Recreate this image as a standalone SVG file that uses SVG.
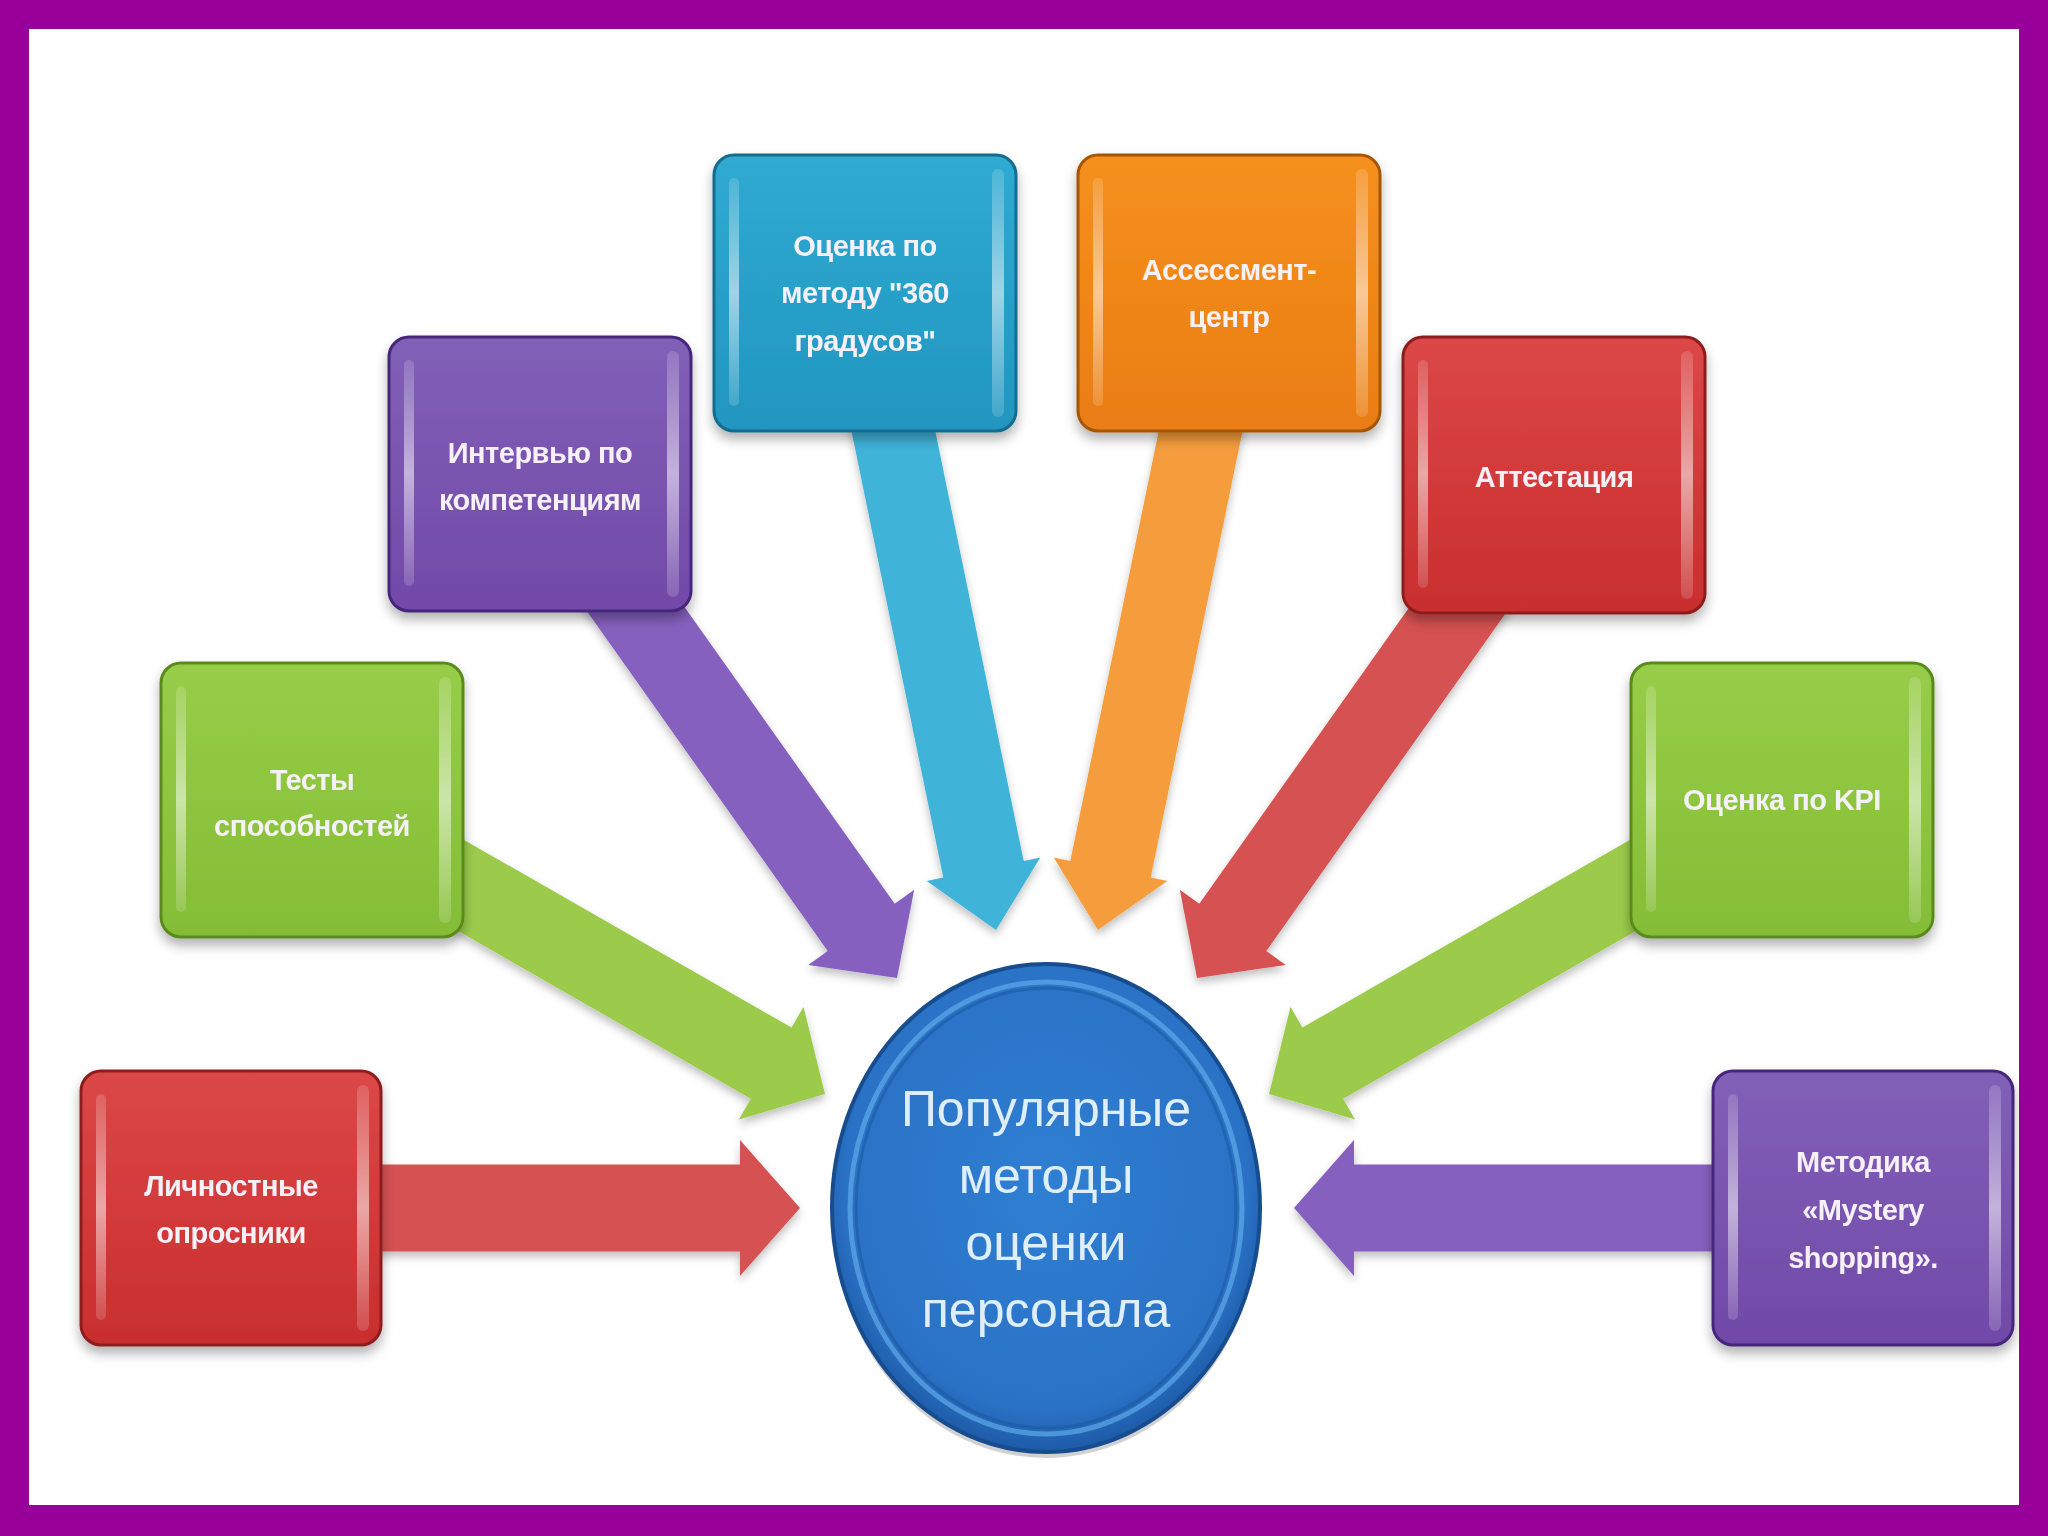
<svg xmlns="http://www.w3.org/2000/svg" width="2048" height="1536" viewBox="0 0 2048 1536">
<defs>
<filter id="sh" x="-20%" y="-20%" width="140%" height="150%">
<feDropShadow dx="0" dy="7" stdDeviation="6" flood-color="#000" flood-opacity="0.3"/>
</filter>
<filter id="ash" x="-20%" y="-20%" width="140%" height="140%">
<feDropShadow dx="0" dy="5" stdDeviation="4" flood-color="#000" flood-opacity="0.25"/>
</filter>
<linearGradient id="gRed" x1="0" y1="0" x2="0" y2="1"><stop offset="0" stop-color="#dc4747"/><stop offset="1" stop-color="#c92e2e"/></linearGradient>
<linearGradient id="gGreen" x1="0" y1="0" x2="0" y2="1"><stop offset="0" stop-color="#97cd48"/><stop offset="1" stop-color="#84bd36"/></linearGradient>
<linearGradient id="gPurple" x1="0" y1="0" x2="0" y2="1"><stop offset="0" stop-color="#8160b8"/><stop offset="1" stop-color="#7149a8"/></linearGradient>
<linearGradient id="gCyan" x1="0" y1="0" x2="0" y2="1"><stop offset="0" stop-color="#30aad2"/><stop offset="1" stop-color="#2096c0"/></linearGradient>
<linearGradient id="gOrange" x1="0" y1="0" x2="0" y2="1"><stop offset="0" stop-color="#f5901e"/><stop offset="1" stop-color="#ea7d12"/></linearGradient>
<radialGradient id="gBlue" cx="0.5" cy="0.45" r="0.55"><stop offset="0" stop-color="#2f7fd2"/><stop offset="0.85" stop-color="#2a72c6"/><stop offset="1" stop-color="#1d5aa6"/></radialGradient>
<linearGradient id="hl" x1="0" y1="0" x2="0" y2="1"><stop offset="0" stop-color="#fff" stop-opacity="0.15"/><stop offset="0.5" stop-color="#fff" stop-opacity="0.55"/><stop offset="1" stop-color="#fff" stop-opacity="0.15"/></linearGradient>
</defs>
<style>
.frame{fill:#990099}
.bg{fill:#ffffff}
.box{stroke-width:3}
.red .box{fill:url(#gRed);stroke:#8e1e1e}
.green .box{fill:url(#gGreen);stroke:#5a8a1e}
.purple .box{fill:url(#gPurple);stroke:#45287a}
.cyan .box{fill:url(#gCyan);stroke:#126c8e}
.orange .box{fill:url(#gOrange);stroke:#a55606}
.strip{fill:url(#hl)}
.lbl{font-family:"Liberation Sans","DejaVu Sans",sans-serif;font-weight:bold;font-size:29px;fill:#f6f1f8;text-anchor:middle;letter-spacing:-0.5px}
.ctr{font-family:"Liberation Sans","DejaVu Sans",sans-serif;font-size:50px;fill:#dfeefb;text-anchor:middle}
.aRed{fill:#d65151}
.aGreen{fill:#9ccb4b}
.aPurple{fill:#8661be}
.aCyan{fill:#3fb3d8}
.aOrange{fill:#f59d3c}
</style>
<rect class="frame" x="0" y="0" width="2048" height="1536"/>
<rect class="bg" x="29" y="29" width="1990" height="1476"/>

<g id="connectors" filter="url(#ash)">
<polygon class="aRed" points="231,1164.5 740,1164.5 740,1140 800,1208 740,1276 740,1251.5 231,1251.5"/>
<polygon class="aPurple" points="1863,1164.5 1354,1164.5 1354,1140 1294,1208 1354,1276 1354,1251.5 1863,1251.5"/>
<polygon class="aGreen" points="291.6,835.6 750.8,1098.8 738.9,1119.6 825,1094 803.5,1006.8 791.6,1027.6 332.4,764.4"/>
<polygon class="aGreen" points="1802.4,835.6 1343.2,1098.8 1355.1,1119.6 1269,1094 1290.5,1006.8 1302.4,1027.6 1761.6,764.4"/>
<polygon class="aPurple" points="506.5,497.7 827.7,951.1 808.2,965 897,978 914.2,889.8 894.7,903.7 573.5,450.3"/>
<polygon class="aRed" points="1587.5,497.7 1266.3,951.1 1285.8,965 1197,978 1179.8,889.8 1199.3,903.7 1520.5,450.3"/>
<polygon class="aCyan" points="824.8,301.3 943.3,877.6 926.7,881 996,930 1040.3,857.6 1023.7,861 905.2,284.7"/>
<polygon class="aOrange" points="1269.2,301.3 1150.7,877.6 1167.3,881 1098,930 1053.7,857.6 1070.3,861 1188.8,284.7"/>
</g>

<g id="center">
<ellipse cx="1046" cy="1214" rx="214" ry="244" fill="#000" opacity="0.18"/>
<ellipse cx="1046" cy="1208" rx="214" ry="244" fill="url(#gBlue)" stroke="#174c8e" stroke-width="4"/>
<ellipse cx="1046" cy="1208" rx="196" ry="226" fill="none" stroke="#5fa9ea" stroke-width="5" opacity="0.7"/>
<ellipse cx="1046" cy="1208" rx="190" ry="220" fill="none" stroke="#1c5aa2" stroke-width="3" opacity="0.6"/>
<text class="ctr" x="1046" y="1126">Популярные</text>
<text class="ctr" x="1046" y="1193">методы</text>
<text class="ctr" x="1046" y="1260">оценки</text>
<text class="ctr" x="1046" y="1327">персонала</text>
</g>

<g id="n1" class="red" filter="url(#sh)">
<rect class="box" x="81" y="1071" width="300" height="274" rx="20"/>
<rect class="strip" x="96" y="1094" width="10" height="226" rx="5"/>
<rect class="strip" x="357" y="1085" width="12" height="246" rx="6"/>
<text class="lbl" x="231" y="1196">Личностные</text>
<text class="lbl" x="231" y="1243">опросники</text>
</g>

<g id="n2" class="green" filter="url(#sh)">
<rect class="box" x="161" y="663" width="302" height="274" rx="20"/>
<rect class="strip" x="176" y="686" width="10" height="226" rx="5"/>
<rect class="strip" x="439" y="677" width="12" height="246" rx="6"/>
<text class="lbl" x="312" y="790">Тесты</text>
<text class="lbl" x="312" y="836">способностей</text>
</g>

<g id="n3" class="purple" filter="url(#sh)">
<rect class="box" x="389" y="337" width="302" height="274" rx="20"/>
<rect class="strip" x="404" y="360" width="10" height="226" rx="5"/>
<rect class="strip" x="667" y="351" width="12" height="246" rx="6"/>
<text class="lbl" x="540" y="463">Интервью по</text>
<text class="lbl" x="540" y="510">компетенциям</text>
</g>

<g id="n4" class="cyan" filter="url(#sh)">
<rect class="box" x="714" y="155" width="302" height="276" rx="20"/>
<rect class="strip" x="729" y="178" width="10" height="228" rx="5"/>
<rect class="strip" x="992" y="169" width="12" height="248" rx="6"/>
<text class="lbl" x="865" y="256">Оценка по</text>
<text class="lbl" x="865" y="303">методу "360</text>
<text class="lbl" x="865" y="351">градусов"</text>
</g>

<g id="n5" class="orange" filter="url(#sh)">
<rect class="box" x="1078" y="155" width="302" height="276" rx="20"/>
<rect class="strip" x="1093" y="178" width="10" height="228" rx="5"/>
<rect class="strip" x="1356" y="169" width="12" height="248" rx="6"/>
<text class="lbl" x="1229" y="280">Ассессмент-</text>
<text class="lbl" x="1229" y="327">центр</text>
</g>

<g id="n6" class="red" filter="url(#sh)">
<rect class="box" x="1403" y="337" width="302" height="276" rx="20"/>
<rect class="strip" x="1418" y="360" width="10" height="228" rx="5"/>
<rect class="strip" x="1681" y="351" width="12" height="248" rx="6"/>
<text class="lbl" x="1554" y="487">Аттестация</text>
</g>

<g id="n7" class="green" filter="url(#sh)">
<rect class="box" x="1631" y="663" width="302" height="274" rx="20"/>
<rect class="strip" x="1646" y="686" width="10" height="226" rx="5"/>
<rect class="strip" x="1909" y="677" width="12" height="246" rx="6"/>
<text class="lbl" x="1782" y="810">Оценка по KPI</text>
</g>

<g id="n8" class="purple" filter="url(#sh)">
<rect class="box" x="1713" y="1071" width="300" height="274" rx="20"/>
<rect class="strip" x="1728" y="1094" width="10" height="226" rx="5"/>
<rect class="strip" x="1989" y="1085" width="12" height="246" rx="6"/>
<text class="lbl" x="1863" y="1172">Методика</text>
<text class="lbl" x="1863" y="1220">«Mystery</text>
<text class="lbl" x="1863" y="1268">shopping».</text>
</g>
</svg>
